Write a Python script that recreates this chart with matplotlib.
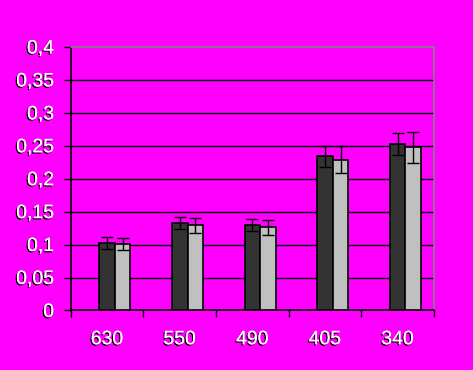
import numpy as np
import matplotlib
matplotlib.use('Agg')
import matplotlib.pyplot as plt
import matplotlib.patheffects as pe

# wavelengths (nm) and measured values for the two series
categories = ['630', '550', '490', '405', '340']
dark_vals = [0.103, 0.133, 0.130, 0.234, 0.2525]
light_vals = [0.1015, 0.129, 0.126, 0.229, 0.2475]
dark_err = [0.009, 0.009, 0.009, 0.016, 0.017]
light_err = [0.009, 0.012, 0.012, 0.021, 0.023]
yticks = [0, 0.05, 0.1, 0.15, 0.2, 0.25, 0.3, 0.35, 0.4]
ytick_labels = ['0', '0,05', '0,1', '0,15', '0,2', '0,25', '0,3', '0,35', '0,4']

magenta = '#FF00FF'
plt.rcParams['font.family'] = ['Liberation Sans', 'DejaVu Sans']

fig = plt.figure(figsize=(4.73, 3.70), dpi=100, facecolor=magenta)
ax = fig.add_axes([0.1495, 0.161, 0.768, 0.712])
ax.set_facecolor(magenta)

x = np.arange(len(categories))
w = 0.215
ax.bar(x, dark_vals, width=w, color='#333333', edgecolor='black', linewidth=1.2,
       yerr=dark_err, capsize=4, error_kw=dict(elinewidth=1, capthick=1, ecolor='black'), zorder=3)
ax.bar(x + w, light_vals, width=w, color='#C0C0C0', edgecolor='black', linewidth=1.2,
       yerr=light_err, capsize=4, error_kw=dict(elinewidth=1, capthick=1, ecolor='black'), zorder=3)

ax.set_xlim(-0.5, 4.5)
ax.set_ylim(0, 0.4)

# horizontal gridlines
for yv in yticks[1:-1]:
    ax.axhline(yv, color='black', linewidth=1.0, zorder=1)

shadow = [pe.withSimplePatchShadow(offset=(-0.9, -0.9), shadow_rgbFace='black', alpha=1.0), pe.Normal()]

ax.set_yticks(yticks)
ax.set_yticklabels(ytick_labels)
ax.tick_params(axis='y', length=5, width=1, pad=7, labelsize=14, labelcolor='white')

ax.set_xticks(x)
ax.set_xticklabels(categories)
ax.set_xticks(np.arange(-0.5, 5, 1), minor=True)
ax.tick_params(axis='x', which='major', length=0, pad=15, labelsize=14, labelcolor='white')
ax.tick_params(axis='x', which='minor', length=5, width=1)

for lab in ax.get_xticklabels() + ax.get_yticklabels():
    lab.set_path_effects(shadow)

ax.spines['left'].set_color('black')
ax.spines['bottom'].set_color('black')
ax.spines['top'].set_color('gray')
ax.spines['right'].set_color('gray')
for s in ax.spines.values():
    s.set_linewidth(1.2)

fig.savefig('out.png', dpi=100, facecolor=magenta)
